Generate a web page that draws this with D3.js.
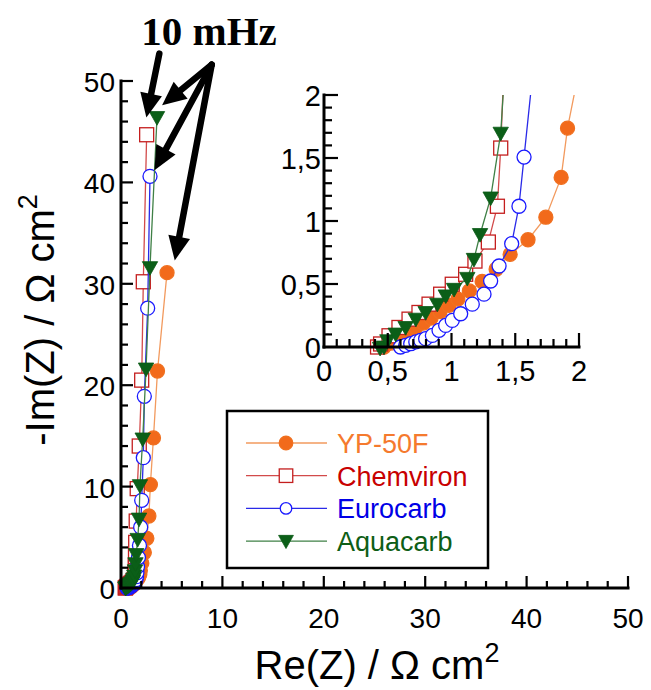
<!DOCTYPE html>
<html><head><meta charset="utf-8">
<script src="https://cdn.jsdelivr.net/npm/d3@7"></script>
<style>body{margin:0;background:#fff}</style>
</head><body>
<svg id="c" width="651" height="690" xmlns="http://www.w3.org/2000/svg"></svg>
<script>
// ---------------- data ----------------
const seriesNames = ["YP-50F", "Chemviron", "Eurocarb", "Aquacarb"];

const ypX = [0.47,0.52,0.57,0.62,0.67,0.72,0.78,0.84,0.91,0.98,1.05,1.14,1.24,1.35,1.46,1.60,1.74,1.86,1.91,2.05,2.30,2.55,2.75,2.90,3.20,3.60,4.54];
const ypY = [0.0,0.03,0.06,0.09,0.12,0.155,0.19,0.23,0.28,0.33,0.38,0.445,0.52,0.617,0.735,0.851,1.03,1.346,1.737,2.45,3.5,4.9,7.1,10.2,14.8,21.4,31.1];

const chX = [0.42,0.444,0.51,0.588,0.667,0.745,0.824,0.915,1.006,1.111,1.184,1.289,1.36,1.386,1.41,1.43,1.45,1.50,1.60,1.80,2.04,2.20,2.53];
const chY = [0.0,0.024,0.089,0.155,0.221,0.274,0.34,0.419,0.498,0.577,0.682,0.833,1.117,1.579,2.2,3.1,4.5,6.6,9.8,14.0,20.5,30.2,44.7];

const euX = [0.60,0.64,0.68,0.72,0.758,0.797,0.85,0.902,0.954,1.006,1.072,1.163,1.255,1.307,1.373,1.472,1.529,1.569,1.63,1.72,1.82,1.94,2.04,2.20,2.30,2.63,2.86];
const euY = [0.0,0.013,0.026,0.04,0.053,0.066,0.092,0.132,0.171,0.211,0.264,0.34,0.419,0.524,0.643,0.82,1.117,1.507,2.1,3.0,4.2,6.0,8.65,12.85,18.9,27.6,40.6];

const aqX = [0.44,0.47,0.497,0.562,0.64,0.72,0.797,0.889,0.955,1.02,1.124,1.176,1.224,1.307,1.386,1.43,1.50,1.65,1.78,1.87,2.14,2.47,2.86,3.55];
const aqY = [-0.01,0.0,0.05,0.103,0.155,0.221,0.274,0.34,0.406,0.458,0.545,0.696,0.893,1.183,1.697,2.4,3.3,4.8,6.8,10.1,14.7,21.6,31.6,46.4];

const mainTicks = [0, 10, 20, 30, 40, 50];
const mainTickLabels = ["0", "10", "20", "30", "40", "50"];
const insetTicks = [0, 0.5, 1, 1.5, 2];
const insetTickLabels = ["0", "0,5", "1", "1,5", "2"];

const annotationText = "10 mHz";
// arrows in main-plot data units: [tailX, tailY, tipX, tipY]
const arrowTailTip = [
  [3.78, 52.7, 2.50, 46.4],
  [8.94, 51.6, 4.05, 47.6],
  [8.94, 51.6, 3.30, 41.2],
  [8.94, 51.6, 5.30, 32.3]
];

// ---------------- styles ----------------
const styles = [
  {line:"#f29a5e", stroke:"#f07020", fill:"#f26a1b", text:"#f57a2e", shape:"circle"},
  {line:"#d24a4a", stroke:"#c41e1e", fill:"#ffffff", text:"#c80000", shape:"square"},
  {line:"#2a2ae8", stroke:"#1a1aff", fill:"#ffffff", text:"#0000e6", shape:"circle"},
  {line:"#3f8046", stroke:"#0b5a16", fill:"#0b5f18", text:"#0e5e16", shape:"tri"}
];
const series = [[ypX,ypY],[chX,chY],[euX,euY],[aqX,aqY]].map((s,i)=>({
  name: seriesNames[i], st: styles[i],
  pts: s[0].map((x,j)=>({x, y:s[1][j]}))
}));

const svg = d3.select("#c");
const font = "'Liberation Sans', Arial, sans-serif";

function marker(g, st, cx, cy, size) {
  const r = size/2;
  if (st.shape === "circle") {
    g.append("circle").attr("cx",cx).attr("cy",cy).attr("r",r)
      .attr("fill",st.fill).attr("stroke",st.stroke).attr("stroke-width",1.3);
  } else if (st.shape === "square") {
    g.append("rect").attr("x",cx-r).attr("y",cy-r).attr("width",size).attr("height",size)
      .attr("fill",st.fill).attr("stroke",st.stroke).attr("stroke-width",1.3);
  } else {
    g.append("path").attr("d",`M${cx-r*1.1},${cy-r*0.85}L${cx+r*1.1},${cy-r*0.85}L${cx},${cy+r*1.1}Z`)
      .attr("fill",st.fill).attr("stroke",st.stroke).attr("stroke-width",0.8);
  }
}

// ---------------- main plot ----------------
const x = d3.scaleLinear().domain([0,50]).range([121,628]);
const y = d3.scaleLinear().domain([0,50]).range([588,81]);

const main = svg.append("g");
series.forEach(s=>{
  const line = d3.line().x(d=>x(d.x)).y(d=>y(d.y));
  main.append("path").attr("d",line(s.pts)).attr("fill","none")
    .attr("stroke",s.st.line).attr("stroke-width",1.3);
  s.pts.forEach(p=>marker(main, s.st, x(p.x), y(p.y), 14));
});

// main axes
const axW = 3;
const ax = svg.append("g");
ax.append("line").attr("x1",x(0)).attr("x2",x(50)).attr("y1",y(0)).attr("y2",y(0))
  .attr("stroke","#000").attr("stroke-width",axW).attr("stroke-linecap","square");
ax.append("line").attr("x1",x(0)).attr("x2",x(0)).attr("y1",y(0)).attr("y2",y(50))
  .attr("stroke","#000").attr("stroke-width",axW).attr("stroke-linecap","square");
d3.range(0,51,2).forEach(v=>{
  const major = v % 10 === 0;
  const L = major ? 12 : 7;
  if (v>0) {
    ax.append("line").attr("x1",x(v)).attr("x2",x(v)).attr("y1",y(0)).attr("y2",y(0)-L)
      .attr("stroke","#000").attr("stroke-width",2.2);
    ax.append("line").attr("x1",x(0)).attr("x2",x(0)+L).attr("y1",y(v)).attr("y2",y(v))
      .attr("stroke","#000").attr("stroke-width",2.2);
  }
});
mainTicks.forEach((v,i)=>{
  ax.append("text").attr("x",x(v)).attr("y",y(0)+40).attr("text-anchor","middle")
    .attr("font-family",font).attr("font-size",28).text(mainTickLabels[i]);
  ax.append("text").attr("x",x(0)-6).attr("y",y(v)+11).attr("text-anchor","end")
    .attr("font-family",font).attr("font-size",28).text(mainTickLabels[i]);
});

// axis titles
const xt = svg.append("text").attr("x",377).attr("y",679).attr("text-anchor","middle")
  .attr("font-family",font).attr("font-size",40);
xt.append("tspan").text("Re(Z) / \u03A9 cm");
xt.append("tspan").attr("font-size",27).attr("dy",-17).text("2");

const yt = svg.append("text").attr("transform","translate(54,320) rotate(-90)")
  .attr("text-anchor","middle").attr("font-family",font).attr("font-size",40);
yt.append("tspan").text("-Im(Z) / \u03A9 cm");
yt.append("tspan").attr("font-size",27).attr("dy",-17).text("2");

// ---------------- inset ----------------
const xi = d3.scaleLinear().domain([0,2]).range([324,579]);
const yi = d3.scaleLinear().domain([0,2]).range([347,95]);

svg.append("clipPath").attr("id","clipInset").append("rect")
  .attr("x",xi(0)-10).attr("y",yi(2)).attr("width",xi(2)-xi(0)+20).attr("height",yi(0)-yi(2)+20);

const inset = svg.append("g");
series.forEach(s=>{
  const line = d3.line().x(d=>xi(d.x)).y(d=>yi(d.y));
  inset.append("path").attr("d",line(s.pts)).attr("fill","none")
    .attr("stroke",s.st.line).attr("stroke-width",1.3).attr("clip-path","url(#clipInset)");
  s.pts.filter(p=>p.y<=2 && p.x<=2).forEach(p=>marker(inset, s.st, xi(p.x), yi(p.y), 14));
});

const iax = svg.append("g");
iax.append("line").attr("x1",xi(0)).attr("x2",xi(2)).attr("y1",yi(0)).attr("y2",yi(0))
  .attr("stroke","#000").attr("stroke-width",axW).attr("stroke-linecap","square");
iax.append("line").attr("x1",xi(0)).attr("x2",xi(0)).attr("y1",yi(0)).attr("y2",yi(2))
  .attr("stroke","#000").attr("stroke-width",axW).attr("stroke-linecap","square");
d3.range(1,21).forEach(k=>{
  const v = k/10;
  const major = k % 5 === 0;
  const L = major ? 14 : 8;
  iax.append("line").attr("x1",xi(v)).attr("x2",xi(v)).attr("y1",yi(0)).attr("y2",yi(0)-L)
    .attr("stroke","#000").attr("stroke-width",2.2);
  iax.append("line").attr("x1",xi(0)).attr("x2",xi(0)+L).attr("y1",yi(v)).attr("y2",yi(v))
    .attr("stroke","#000").attr("stroke-width",2.2);
});
insetTicks.forEach((v,i)=>{
  iax.append("text").attr("x",xi(v)).attr("y",yi(0)+34).attr("text-anchor","middle")
    .attr("font-family",font).attr("font-size",29).text(insetTickLabels[i]);
  iax.append("text").attr("x",xi(0)-3).attr("y",yi(v)+11).attr("text-anchor","end")
    .attr("font-family",font).attr("font-size",29).text(insetTickLabels[i]);
});

// ---------------- legend ----------------
const leg = svg.append("g");
leg.append("rect").attr("x",227).attr("y",411).attr("width",261).attr("height",157)
  .attr("fill","#fff").attr("stroke","#000").attr("stroke-width",2.5);
series.forEach((s,i)=>{
  const ly = 443 + i*32.7;
  leg.append("line").attr("x1",246).attr("x2",327).attr("y1",ly).attr("y2",ly)
    .attr("stroke",s.st.line).attr("stroke-width",1.3);
  marker(leg, s.st, 286, ly, i===2 ? 11.5 : 13.5);
  leg.append("text").attr("x",337).attr("y",ly+10).attr("font-family",font)
    .attr("font-size",27).attr("fill",s.st.text).text(s.name);
});

// ---------------- annotation ----------------
svg.append("text").attr("x",209).attr("y",45).attr("text-anchor","middle")
  .attr("font-family","'Liberation Serif','Times New Roman',serif").attr("font-weight","bold")
  .attr("font-size",41).text(annotationText);

const ann = svg.append("g");
arrowTailTip.forEach(a=>{
  const x1 = x(a[0]), y1 = y(a[1]), x2 = x(a[2]), y2 = y(a[3]);
  const dx = x2-x1, dy = y2-y1, len = Math.hypot(dx,dy);
  const ux = dx/len, uy = dy/len;
  const hl = 24, hw = 11;
  const bx = x2 - ux*hl, by = y2 - uy*hl;
  ann.append("line").attr("x1",x1).attr("y1",y1).attr("x2",bx+ux*2).attr("y2",by+uy*2)
    .attr("stroke","#000").attr("stroke-width",6.5).attr("stroke-linecap","round");
  ann.append("path")
    .attr("d",`M${x2},${y2}L${bx-uy*hw},${by+ux*hw}L${bx+uy*hw},${by-ux*hw}Z`)
    .attr("fill","#000");
});
</script>
</body></html>
